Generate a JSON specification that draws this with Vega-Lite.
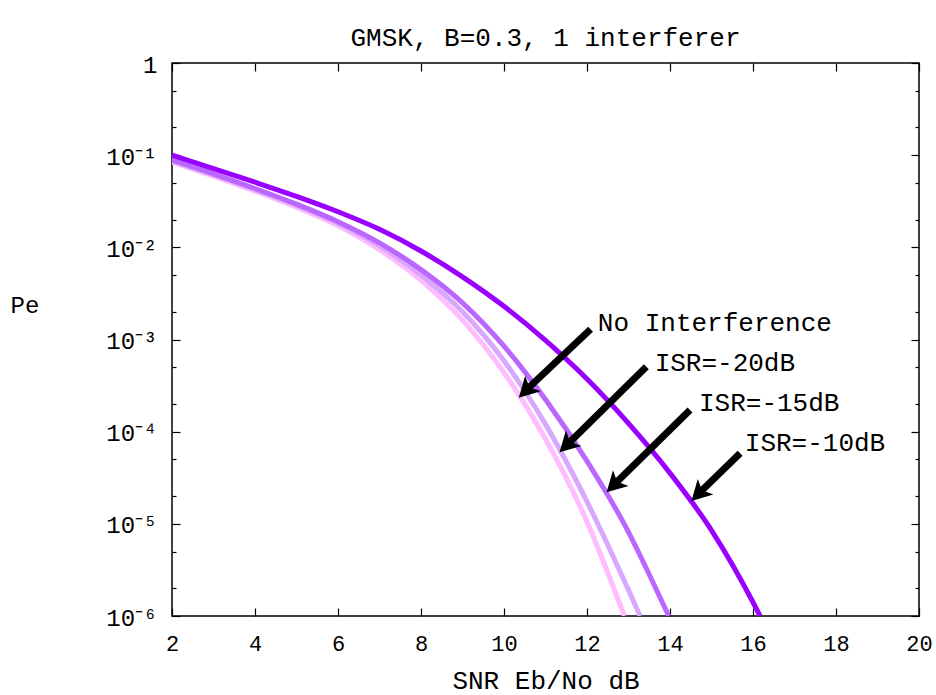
{
  "$schema": "https://vega.github.io/schema/vega-lite/v6.json",
  "width": 747,
  "height": 553,
  "autosize": {"type": "none"},
  "padding": {"left": 172, "top": 63, "right": 17, "bottom": 79},
  "background": "white",
  "title": {"text": "GMSK, B=0.3, 1 interferer", "font": "Liberation Mono", "fontSize": 26, "fontWeight": "normal", "color": "#000", "anchor": "middle", "frame": "group", "offset": 15, "baseline": "alphabetic", "dy": 34},
  "config": {
    "view": {"stroke": "#000", "strokeWidth": 1.5},
    "axis": {"labelFont": "Liberation Mono", "labelFontSize": 22, "labelColor": "#000", "titleFont": "Liberation Mono", "titleFontSize": 26, "titleFontWeight": "normal", "titleColor": "#000", "tickColor": "#000", "tickWidth": 1.2, "grid": false, "domain": false, "labelOverlap": false, "labelFlush": false}
  },
  "datasets": {
    "curves": [
      {"s": "No Interference", "x": 2, "pe": 0.0843},
      {"s": "No Interference", "x": 3, "pe": 0.0593},
      {"s": "No Interference", "x": 4, "pe": 0.0407},
      {"s": "No Interference", "x": 5, "pe": 0.0272},
      {"s": "No Interference", "x": 6, "pe": 0.01718},
      {"s": "No Interference", "x": 7, "pe": 0.00944},
      {"s": "No Interference", "x": 8, "pe": 0.00437},
      {"s": "No Interference", "x": 9, "pe": 0.00162},
      {"s": "No Interference", "x": 10, "pe": 0.000437},
      {"s": "No Interference", "x": 11, "pe": 0.0000832},
      {"s": "No Interference", "x": 12, "pe": 0.0000105},
      {"s": "No Interference", "x": 12.9, "pe": 0.000001},
      {"s": "ISR=-20dB", "x": 2, "pe": 0.0865},
      {"s": "ISR=-20dB", "x": 3, "pe": 0.061},
      {"s": "ISR=-20dB", "x": 4, "pe": 0.0422},
      {"s": "ISR=-20dB", "x": 5, "pe": 0.0285},
      {"s": "ISR=-20dB", "x": 6, "pe": 0.0182},
      {"s": "ISR=-20dB", "x": 7, "pe": 0.01035},
      {"s": "ISR=-20dB", "x": 8, "pe": 0.00501},
      {"s": "ISR=-20dB", "x": 9, "pe": 0.002},
      {"s": "ISR=-20dB", "x": 10, "pe": 0.000589},
      {"s": "ISR=-20dB", "x": 11, "pe": 0.00012},
      {"s": "ISR=-20dB", "x": 12, "pe": 0.0000174},
      {"s": "ISR=-20dB", "x": 13, "pe": 0.00000191},
      {"s": "ISR=-20dB", "x": 13.28, "pe": 0.000001},
      {"s": "ISR=-15dB", "x": 2, "pe": 0.0887},
      {"s": "ISR=-15dB", "x": 3, "pe": 0.0628},
      {"s": "ISR=-15dB", "x": 4, "pe": 0.0435},
      {"s": "ISR=-15dB", "x": 5, "pe": 0.0294},
      {"s": "ISR=-15dB", "x": 6, "pe": 0.01897},
      {"s": "ISR=-15dB", "x": 7, "pe": 0.01117},
      {"s": "ISR=-15dB", "x": 8, "pe": 0.00573},
      {"s": "ISR=-15dB", "x": 9, "pe": 0.0025},
      {"s": "ISR=-15dB", "x": 10, "pe": 0.000847},
      {"s": "ISR=-15dB", "x": 11, "pe": 0.000223},
      {"s": "ISR=-15dB", "x": 12, "pe": 0.0000479},
      {"s": "ISR=-15dB", "x": 13, "pe": 0.00000813},
      {"s": "ISR=-15dB", "x": 13.5, "pe": 0.00000282},
      {"s": "ISR=-15dB", "x": 13.97, "pe": 0.000001},
      {"s": "ISR=-10dB", "x": 2, "pe": 0.1},
      {"s": "ISR=-10dB", "x": 3, "pe": 0.0716},
      {"s": "ISR=-10dB", "x": 4, "pe": 0.0509},
      {"s": "ISR=-10dB", "x": 5, "pe": 0.0357},
      {"s": "ISR=-10dB", "x": 6, "pe": 0.0243},
      {"s": "ISR=-10dB", "x": 7, "pe": 0.01567},
      {"s": "ISR=-10dB", "x": 8, "pe": 0.00912},
      {"s": "ISR=-10dB", "x": 9, "pe": 0.00479},
      {"s": "ISR=-10dB", "x": 10, "pe": 0.00229},
      {"s": "ISR=-10dB", "x": 11, "pe": 0.000977},
      {"s": "ISR=-10dB", "x": 12, "pe": 0.000372},
      {"s": "ISR=-10dB", "x": 13, "pe": 0.000123},
      {"s": "ISR=-10dB", "x": 14, "pe": 0.0000355},
      {"s": "ISR=-10dB", "x": 15, "pe": 0.00000851},
      {"s": "ISR=-10dB", "x": 16, "pe": 0.00000141},
      {"s": "ISR=-10dB", "x": 16.17, "pe": 0.000001}
    ],
    "arrows": [
      {"label": "No Interference", "x": 12.086, "y": 0.00129, "x2": 10.6, "y2": 0.000302, "hx": 10.356, "hy": 0.000234, "tx": 12.262, "ty": 0.00152},
      {"label": "ISR=-20dB", "x": 13.43, "y": 0.000507, "x2": 11.577, "y2": 0.0000765, "hx": 11.338, "hy": 0.0000597, "tx": 13.63, "ty": 0.000552},
      {"label": "ISR=-15dB", "x": 14.482, "y": 0.000172, "x2": 12.711, "y2": 0.0000282, "hx": 12.472, "hy": 0.000022, "tx": 14.699, "ty": 0.000203},
      {"label": "ISR=-10dB", "x": 15.689, "y": 0.0000582, "x2": 14.755, "y2": 0.0000227, "hx": 14.516, "hy": 0.0000177, "tx": 15.802, "ty": 0.0000748}
    ]
  },
  "layer": [
    {
      "data": {"name": "curves"},
      "mark": {"type": "line", "strokeWidth": 5, "clip": true, "interpolate": "monotone"},
      "encoding": {
        "x": {"field": "x", "type": "quantitative", "scale": {"domain": [2, 20], "nice": false, "zero": false},
          "axis": {"orient": "bottom", "values": [2, 4, 6, 8, 10, 12, 14, 16, 18, 20], "tickSize": -8, "labelPadding": 25, "title": "SNR Eb/No dB", "titleY": 72, "titleBaseline": "alphabetic"}},
        "y": {"field": "pe", "type": "quantitative", "scale": {"type": "log", "domain": [0.000001, 1], "nice": false},
          "axis": {"orient": "left", "values": [0.000001, 0.000002, 0.000005, 0.00001, 0.00002, 0.00005, 0.0001, 0.0002, 0.0005, 0.001, 0.002, 0.005, 0.01, 0.02, 0.05, 0.1, 0.2, 0.5, 1],
            "tickSize": {"condition": {"test": "abs(log(datum.value)/LN10 - round(log(datum.value)/LN10)) < 0.001", "value": -8}, "value": -4},
            "labelExpr": "abs(log(datum.value)/LN10 - round(log(datum.value)/LN10)) < 0.001 ? (datum.value > 0.5 ? '1' : '10⁻' + ['⁰','¹','²','³','⁴','⁵','⁶'][round(-log(datum.value)/LN10)]) : ''",
            "labelBaseline": "alphabetic", "labelOffset": 9, "labelPadding": 23, "labelFontSize": 24,
            "title": "Pe", "titleAngle": 0, "titleX": -162, "titleY": 242, "titleAlign": "left", "titleBaseline": "middle", "titleFontSize": 24}},
        "color": {"field": "s", "type": "nominal", "sort": ["No Interference", "ISR=-20dB", "ISR=-15dB", "ISR=-10dB"], "scale": {"domain": ["No Interference", "ISR=-20dB", "ISR=-15dB", "ISR=-10dB"], "range": ["#ffbcff", "#d8a8ff", "#bb66ff", "#9900ff"]}, "legend": null}
      }
    },
    {
      "data": {"name": "arrows"},
      "mark": {"type": "rule", "strokeWidth": 7, "color": "#000"},
      "encoding": {
        "x": {"field": "x", "type": "quantitative", "scale": {"domain": [2, 20], "nice": false, "zero": false},
          "axis": {"orient": "top", "values": [2, 4, 6, 8, 10, 12, 14, 16, 18, 20], "tickSize": -8, "labels": false, "title": null}},
        "y": {"field": "y", "type": "quantitative", "scale": {"type": "log", "domain": [0.000001, 1], "nice": false},
          "axis": {"orient": "right", "values": [0.000001, 0.000002, 0.000005, 0.00001, 0.00002, 0.00005, 0.0001, 0.0002, 0.0005, 0.001, 0.002, 0.005, 0.01, 0.02, 0.05, 0.1, 0.2, 0.5, 1],
            "tickSize": {"condition": {"test": "abs(log(datum.value)/LN10 - round(log(datum.value)/LN10)) < 0.001", "value": -8}, "value": -4},
            "labels": false, "title": null}},
        "x2": {"field": "x2"},
        "y2": {"field": "y2"}
      }
    },
    {
      "data": {"name": "arrows"},
      "mark": {"type": "point", "shape": "M0,0L0.55,1L0,0.75L-0.55,1Z", "filled": true, "color": "#000", "opacity": 1, "size": 1600, "angle": 225, "strokeWidth": 0},
      "encoding": {
        "x": {"field": "hx", "type": "quantitative", "scale": {"domain": [2, 20], "nice": false, "zero": false}, "axis": null},
        "y": {"field": "hy", "type": "quantitative", "scale": {"type": "log", "domain": [0.000001, 1], "nice": false}, "axis": null}
      }
    },
    {
      "data": {"name": "arrows"},
      "mark": {"type": "text", "align": "left", "baseline": "middle", "font": "Liberation Mono", "fontSize": 26, "color": "#000"},
      "encoding": {
        "x": {"field": "tx", "type": "quantitative", "scale": {"domain": [2, 20], "nice": false, "zero": false}, "axis": null},
        "y": {"field": "ty", "type": "quantitative", "scale": {"type": "log", "domain": [0.000001, 1], "nice": false}, "axis": null},
        "text": {"field": "label"}
      }
    }
  ],
  "resolve": {"axis": {"x": "independent", "y": "independent"}}
}
